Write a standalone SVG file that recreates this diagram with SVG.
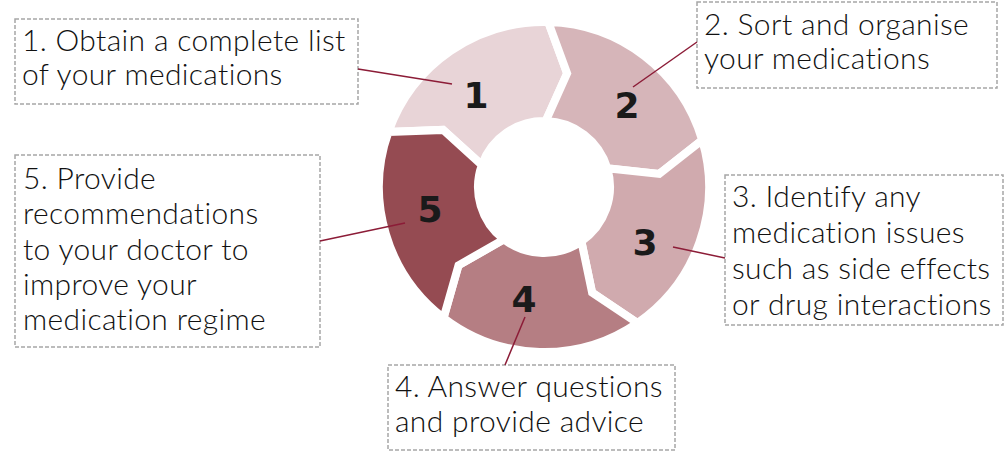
<svg xmlns="http://www.w3.org/2000/svg" width="1008" height="452" viewBox="0 0 1008 452">
<style>
.seg{stroke:#fff;stroke-width:8;stroke-linejoin:miter}
.num{font-family:"DejaVu Sans",sans-serif;font-weight:bold;font-size:36px;fill:#1a1a1a;text-anchor:middle}
.box{fill:#fff;stroke:#a6a6a6;stroke-width:1.5;stroke-dasharray:4 2}
.lbl{font-family:Lato,"Liberation Sans",sans-serif;font-weight:300;font-size:30px;letter-spacing:0.35px;fill:#111}
.conn{stroke:#8c1c37;stroke-width:1.5;fill:none}
</style>
<rect width="1008" height="452" fill="#fff"/>
<g id="step1">
<path class="seg" fill="#e8d4d7" d="M 388.46 131.92 A 165 165 0 0 1 548.32 22.06 L 567.13 73.33 L 545.73 121.02 A 66 66 0 0 0 481.79 164.97 L 443.04 129.88 Z"/>
<text class="num" x="476" y="108">1</text>
</g>
<g id="step2">
<path class="seg" fill="#d6b5b9" d="M 548.32 22.06 A 165 165 0 0 1 702.21 140.14 L 659.25 173.87 L 607.28 168.25 A 66 66 0 0 0 545.73 121.02 L 567.13 73.33 Z"/>
<text class="num" x="627" y="118">2</text>
</g>
<g id="step3">
<path class="seg" fill="#d0aaae" d="M 702.21 140.14 A 165 165 0 0 1 637.46 322.98 L 592.10 292.56 L 581.38 241.39 A 66 66 0 0 0 607.28 168.25 L 659.25 173.87 Z"/>
<text class="num" x="645" y="255">3</text>
</g>
<g id="step4">
<path class="seg" fill="#b57e83" d="M 637.46 322.98 A 165 165 0 0 1 443.55 317.90 L 458.48 265.37 L 503.82 239.36 A 66 66 0 0 0 581.38 241.39 L 592.10 292.56 Z"/>
<text class="num" x="524" y="312">4</text>
</g>
<g id="step5">
<path class="seg" fill="#954b52" d="M 443.55 317.90 A 165 165 0 0 1 388.46 131.92 L 443.04 129.88 L 481.79 164.97 A 66 66 0 0 0 503.82 239.36 L 458.48 265.37 Z"/>
<text class="num" x="430" y="222">5</text>
</g>
<g id="label1">
<rect class="box" x="15" y="19" width="343" height="85"/>
<text class="lbl" x="22" y="51">1. Obtain a complete list</text>
<text class="lbl" x="22" y="85">of your medications</text>
</g>
<g id="label2">
<rect class="box" x="697" y="2" width="300" height="86"/>
<text class="lbl" x="704" y="35">2. Sort and organise</text>
<text class="lbl" x="704" y="69">your medications</text>
</g>
<g id="label3">
<rect class="box" x="725" y="175" width="278" height="150"/>
<text class="lbl" x="732" y="207">3. Identify any</text>
<text class="lbl" x="732" y="243">medication issues</text>
<text class="lbl" x="732" y="279">such as side effects</text>
<text class="lbl" x="732" y="315">or drug interactions</text>
</g>
<g id="label4">
<rect class="box" x="388" y="365" width="287" height="85"/>
<text class="lbl" x="395" y="397">4. Answer questions</text>
<text class="lbl" x="395" y="432">and provide advice</text>
</g>
<g id="label5">
<rect class="box" x="15" y="155" width="305" height="192"/>
<text class="lbl" x="23" y="189">5. Provide</text>
<text class="lbl" x="23" y="224">recommendations</text>
<text class="lbl" x="23" y="260">to your doctor to</text>
<text class="lbl" x="23" y="295">improve your</text>
<text class="lbl" x="23" y="330">medication regime</text>
</g>
<g id="connectors">
<line class="conn" x1="358" y1="69" x2="452" y2="84"/>
<line class="conn" x1="697" y1="42" x2="633" y2="87"/>
<line class="conn" x1="673" y1="247" x2="725" y2="258"/>
<line class="conn" x1="525" y1="317" x2="505" y2="365"/>
<line class="conn" x1="320" y1="241" x2="405" y2="223"/>
</g>
</svg>
